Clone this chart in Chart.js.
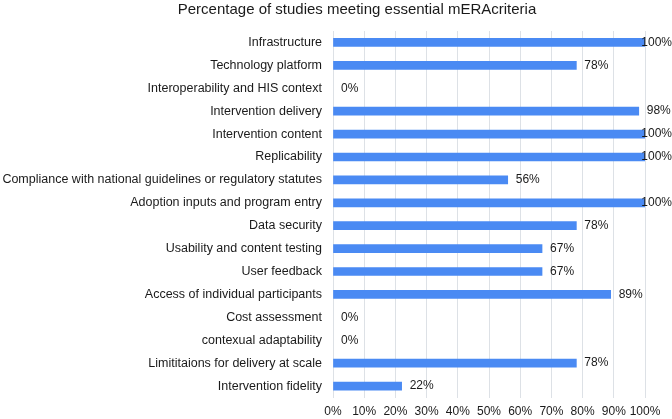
<!DOCTYPE html>
<html>
<head>
<meta charset="utf-8">
<script src="https://cdn.jsdelivr.net/npm/chart.js@4"></script>
<style>
  body { margin: 0; background: #fff; }
</style>
</head>
<body>
<canvas id="grafica" width="672" height="419"></canvas>
<script>
const criterios = ['Infrastructure', 'Technology platform', 'Interoperability and HIS context',
  'Intervention delivery', 'Intervention content', 'Replicability',
  'Compliance with national guidelines or regulatory statutes', 'Adoption inputs and program entry',
  'Data security', 'Usability and content testing', 'User feedback',
  'Access of individual participants', 'Cost assessment', 'contexual adaptability',
  'Limititaions for delivery at scale', 'Intervention fidelity']
const porcentajes = [100, 78, 0, 98, 100, 100, 56, 100, 78, 67, 67, 89, 0, 0, 78, 22]
const ticksX = [0, 10, 20, 30, 40, 50, 60, 70, 80, 90, 100]
const titulo = 'Percentage of studies meeting essential mERAcriteria'

const fuente = '"Liberation Sans", Arial, Helvetica, sans-serif'

// titulo dibujado a mano, esta corrido a la derecha en el original
const pluginTitulo = {
  id: 'tituloManual',
  afterDraw: (chart) => {
    const ctx = chart.ctx
    ctx.save()
    ctx.font = '15px ' + fuente
    ctx.fillStyle = '#1a1a1a'
    ctx.textAlign = 'center'
    ctx.textBaseline = 'middle'
    ctx.fillText(titulo, 357, 10)
    ctx.restore()
  }
}

// etiquetas al final de cada barra
const pluginEtiquetas = {
  id: 'etiquetas',
  afterDatasetsDraw: (chart) => {
    const ctx = chart.ctx
    const meta = chart.getDatasetMeta(0)
    ctx.save()
    ctx.font = '12px ' + fuente
    ctx.fillStyle = '#1a1a1a'
    ctx.textBaseline = 'middle'
    meta.data.forEach((bar, i) => {
      const texto = porcentajes[i] + '%'
      const w = ctx.measureText(texto).width
      let x = bar.x + 8
      if (x + w > chart.width) x = chart.width - w
      ctx.fillText(texto, x, bar.y)
    })
    ctx.restore()
  }
}

const dataConfig = {
  labels: criterios,
  datasets: [{
    data: porcentajes,
    backgroundColor: (c) => c.raw === 0 ? 'rgba(0,0,0,0)' : '#4a8af3',
    borderWidth: 0,
    barThickness: 8
  }]
}

const config = {
  type: 'bar',
  data: dataConfig,
  options: {
    indexAxis: 'y',
    responsive: false,
    animation: false,
    layout: { padding: { top: 31, right: 27, bottom: 0, left: 0 } },
    plugins: {
      legend: { display: false },
      title: { display: false },
      tooltip: { enabled: false }
    },
    scales: {
      x: {
        min: 0,
        max: 100,
        afterBuildTicks: (scale) => { scale.ticks = ticksX.map(v => ({ value: v })) },
        afterFit: (scale) => { scale.height = 21.5 },
        ticks: {
          callback: (v) => v + '%',
          color: '#1a1a1a',
          font: { family: fuente, size: 12 },
          padding: 7,
          maxRotation: 0,
          autoSkip: false
        },
        grid: { color: '#dde1e6', drawTicks: false },
        border: { display: false }
      },
      y: {
        afterFit: (scale) => { scale.width = 333 },
        ticks: {
          color: '#1a1a1a',
          font: { family: fuente, size: 12.5 },
          padding: 11,
          autoSkip: false
        },
        grid: { display: false, drawTicks: false },
        border: { display: false }
      }
    }
  },
  plugins: [pluginEtiquetas, pluginTitulo]
}

window.graficaUno = new Chart(document.getElementById('grafica'), config)
</script>
</body>
</html>
